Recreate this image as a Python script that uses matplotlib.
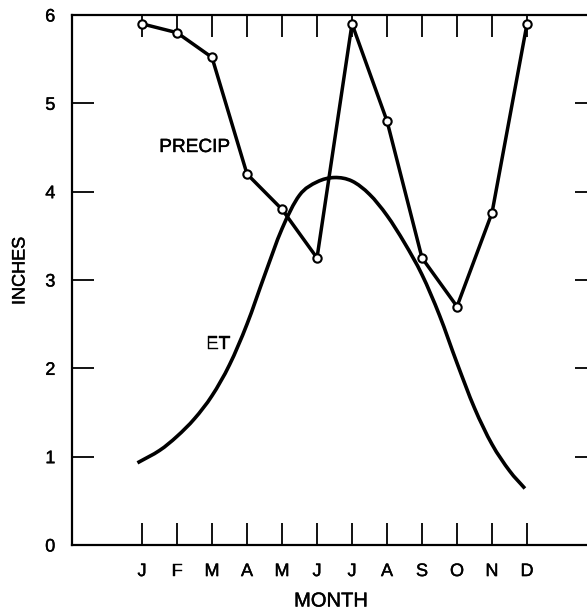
import numpy as np
import matplotlib
matplotlib.use("Agg")
import matplotlib.pyplot as plt
import matplotlib.patheffects as pe
from matplotlib.path import Path
from matplotlib.patches import PathPatch

plt.rcParams["font.family"] = ["Liberation Sans", "DejaVu Sans"]

# Monthly precipitation (inches)
months = ["J", "F", "M", "A", "M", "J", "J", "A", "S", "O", "N", "D"]
month_pos = np.arange(1, 13)
precip = [5.9, 5.8, 5.52, 4.2, 3.8, 3.25, 5.9, 4.8, 3.25, 2.7, 3.76, 5.9]

# Evapotranspiration curve, read every half month (month position, inches)
et_month = [0.87, 1.5, 2.0, 2.5, 3.0, 3.5, 4.0, 4.5, 5.0, 5.5, 6.0, 6.5,
            7.0, 7.5, 8.0, 8.5, 9.0, 9.5, 10.0, 10.5, 11.0, 11.5, 11.94]
et_value = [0.93, 1.07, 1.23, 1.43, 1.69, 2.04, 2.50, 3.05, 3.58, 3.96, 4.11, 4.16,
            4.12, 3.97, 3.73, 3.42, 3.06, 2.60, 2.06, 1.55, 1.14, 0.84, 0.64]

y_ticks = [0, 1, 2, 3, 4, 5, 6]

# slightly heavier lettering
bold_fx = [pe.withStroke(linewidth=0.3, foreground="black")]


def smooth_path(xs, ys):
    """Catmull-Rom curve through the points, as cubic Bezier segments."""
    pts = np.column_stack([xs, ys])
    ext = np.vstack([2 * pts[0] - pts[1], pts, 2 * pts[-1] - pts[-2]])
    verts = [tuple(pts[0])]
    codes = [Path.MOVETO]
    for i in range(1, len(ext) - 2):
        p0, p1, p2, p3 = ext[i - 1], ext[i], ext[i + 1], ext[i + 2]
        c1 = p1 + (p2 - p0) / 6.0
        c2 = p2 - (p3 - p1) / 6.0
        verts += [tuple(c1), tuple(c2), tuple(p2)]
        codes += [Path.CURVE4] * 3
    return Path(verts, codes)


fig = plt.figure(figsize=(5.87, 6.10), dpi=100)
ax = fig.add_axes([72 / 587, 65 / 610, 525 / 587, 530 / 610])

ax.plot(month_pos, precip, color="black", lw=2.5, solid_joinstyle="miter",
        marker="o", ms=6, mfc="white", mec="black", mew=1.5, zorder=4)

ax.add_patch(PathPatch(smooth_path(et_month, et_value), fill=False,
                       edgecolor="black", lw=2.6, capstyle="butt", zorder=3))

ax.text(2.5, 4.5, "PRECIP", fontsize=13.7, ha="center", va="center",
        path_effects=bold_fx)
ax.text(3.17, 2.27, "ET", fontsize=13.5, ha="center", va="center",
        path_effects=bold_fx)

ax.set_xlim(-1, 14)
ax.set_ylim(0, 6)
ax.set_xticks(month_pos)
ax.set_xticklabels(months)
ax.set_yticks(y_ticks)
ax.set_yticklabels([str(v) for v in y_ticks])

ax.tick_params(axis="both", direction="in", length=16, width=1.3,
               top=True, right=True, labelsize=13, color="black")
ax.tick_params(axis="y", pad=12)
ax.tick_params(axis="x", pad=13)

for side in ["left", "top", "bottom", "right"]:
    ax.spines[side].set_linewidth(1.6)

ax.set_xlabel("MONTH", fontsize=14.5)
ax.xaxis.set_label_coords((331 - 72) / 525, -(601 - 545) / 530)
ax.xaxis.label.set_va("center")
ax.set_ylabel("INCHES", fontsize=13)
ax.yaxis.set_label_coords(-(72 - 20) / 525, (545 - 271) / 530)
ax.yaxis.label.set_va("center")

for t in ax.get_xticklabels() + ax.get_yticklabels() + [ax.xaxis.label, ax.yaxis.label]:
    t.set_path_effects(bold_fx)

fig.savefig("out.png", dpi=100)
